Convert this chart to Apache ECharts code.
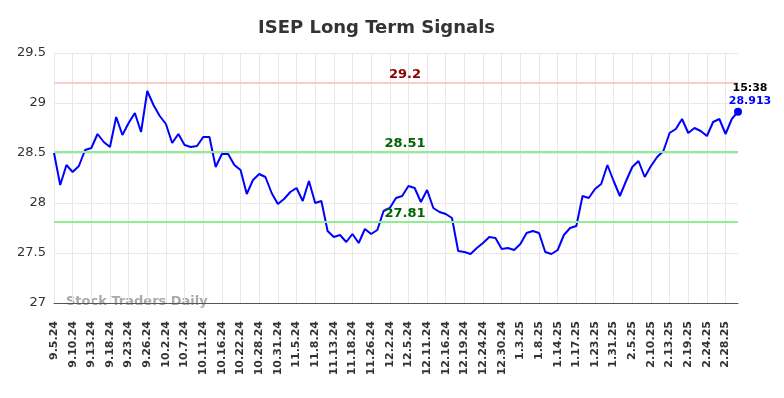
<!DOCTYPE html>
<html>
<head>
<meta charset="utf-8">
<script src="https://cdn.jsdelivr.net/npm/echarts@6/dist/echarts.min.js"></script>
<style>
  html, body { margin: 0; padding: 0; background: #fff; }
  #main { width: 784px; height: 398px; }
</style>
</head>
<body>
<div id="main"></div>
<script>
// trading days, a label shows on every third one
var dates = [
  '9.5.24','9.6.24','9.9.24', '9.10.24','9.11.24','9.12.24', '9.13.24','9.16.24','9.17.24',
  '9.18.24','9.19.24','9.20.24', '9.23.24','9.24.24','9.25.24', '9.26.24','9.27.24','9.30.24',
  '10.2.24','10.3.24','10.4.24', '10.7.24','10.8.24','10.9.24', '10.11.24','10.14.24','10.15.24',
  '10.16.24','10.17.24','10.18.24', '10.22.24','10.23.24','10.24.24', '10.28.24','10.29.24','10.30.24',
  '10.31.24','11.1.24','11.4.24', '11.5.24','11.6.24','11.7.24', '11.8.24','11.11.24','11.12.24',
  '11.13.24','11.14.24','11.15.24', '11.18.24','11.20.24','11.22.24', '11.26.24','11.27.24','11.29.24',
  '12.2.24','12.3.24','12.4.24', '12.5.24','12.6.24','12.9.24', '12.11.24','12.12.24','12.13.24',
  '12.16.24','12.17.24','12.18.24', '12.19.24','12.20.24','12.23.24', '12.24.24','12.26.24','12.27.24',
  '12.30.24','12.31.24','1.2.25', '1.3.25','1.6.25','1.7.25', '1.8.25','1.10.25','1.13.25',
  '1.14.25','1.15.25','1.16.25', '1.17.25','1.21.25','1.22.25', '1.23.25','1.24.25','1.28.25',
  '1.31.25','2.3.25','2.4.25', '2.5.25','2.6.25','2.7.25', '2.10.25','2.11.25','2.12.25',
  '2.13.25','2.14.25','2.18.25', '2.19.25','2.20.25','2.21.25', '2.24.25','2.25.25','2.26.25',
  '2.28.25','3.3.25','3.4.25'
];

var prices = [
  28.50, 28.18, 28.38, 28.31, 28.37, 28.53, 28.55, 28.69, 28.61, 28.56,
  28.86, 28.68, 28.80, 28.90, 28.71, 29.12, 28.98, 28.87, 28.79, 28.60,
  28.69, 28.58, 28.56, 28.57, 28.66, 28.66, 28.36, 28.49, 28.49, 28.38,
  28.33, 28.09, 28.23, 28.29, 28.26, 28.10, 27.99, 28.04, 28.11, 28.15,
  28.02, 28.22, 28.00, 28.02, 27.72, 27.66, 27.68, 27.61, 27.69, 27.60,
  27.74, 27.69, 27.73, 27.92, 27.95, 28.05, 28.07, 28.17, 28.15, 28.01,
  28.13, 27.95, 27.91, 27.89, 27.85, 27.52, 27.51, 27.49, 27.55, 27.60,
  27.66, 27.65, 27.54, 27.55, 27.53, 27.59, 27.70, 27.72, 27.70, 27.51,
  27.49, 27.53, 27.68, 27.75, 27.77, 28.07, 28.05, 28.14, 28.19, 28.38,
  28.22, 28.07, 28.22, 28.36, 28.42, 28.26, 28.37, 28.46, 28.52, 28.70,
  28.74, 28.84, 28.70, 28.75, 28.72, 28.67, 28.81, 28.84, 28.69, 28.84,
  28.913
];

var resistance = 29.2;
var midLevel = 28.51;
var support = 27.81;
var lastTime = '15:38';
var yTicks = [27, 27.5, 28, 28.5, 29, 29.5];

var font = 'DejaVu Sans';
var lastIdx = prices.length - 1;

var option = {
  animation: false,
  backgroundColor: '#fff',
  title: {
    text: 'ISEP Long Term Signals',
    left: 253, top: 14,
    textStyle: { fontFamily: font, fontSize: 18, fontWeight: 'bold', color: '#333' }
  },
  grid: { left: 54, right: 46, top: 53, bottom: 95, containLabel: false },
  xAxis: {
    type: 'category',
    data: dates,
    boundaryGap: false,
    axisLine: { lineStyle: { color: '#555' } },
    axisTick: { show: false },
    axisLabel: { interval: 2, rotate: 90, margin: 18, fontFamily: font, fontSize: 11, fontWeight: 'bold', color: '#333' },
    splitLine: { show: true, interval: 2, lineStyle: { color: '#e8e8e8' } }
  },
  yAxis: {
    type: 'value',
    min: yTicks[0], max: yTicks[yTicks.length - 1], interval: 0.5,
    axisLine: { show: false },
    axisTick: { show: false },
    axisLabel: { fontFamily: font, fontSize: 13, color: '#333', margin: 8 },
    splitLine: { lineStyle: { color: '#e8e8e8' } }
  },
  graphic: [{
    type: 'text', left: 66, top: 295, silent: true,
    style: { text: 'Stock Traders Daily', fontFamily: font, fontSize: 13, fontWeight: 'bold', fill: '#aaa' }
  }],
  series: [{
    type: 'line',
    data: prices,
    showSymbol: false,
    lineStyle: { color: '#0000ff', width: 2 },
    itemStyle: { color: '#0000ff' },
    markLine: {
      silent: true,
      symbol: 'none',
      data: [
        { yAxis: resistance, lineStyle: { color: '#ffcccc', width: 2, type: 'solid' },
          label: { color: '#8b0000' } },
        { yAxis: midLevel, lineStyle: { color: '#90ee90', width: 2, type: 'solid' },
          label: { color: '#006400' } },
        { yAxis: support, lineStyle: { color: '#90ee90', width: 2, type: 'solid' },
          label: { color: '#006400' } }
      ],
      label: {
        position: 'insideMiddleTop', distance: 2, offset: [9, 0],
        formatter: function (p) { return String(p.value); },
        fontFamily: font, fontSize: 13, fontWeight: 'bold'
      }
    },
    markPoint: {
      silent: true,
      symbol: 'circle', symbolSize: 8,
      itemStyle: { color: '#0000ff' },
      data: [{ coord: [lastIdx, prices[lastIdx]] }],
      label: {
        show: true, position: 'top', offset: [12, 5],
        formatter: '{t|' + lastTime + '}\n{v|' + prices[lastIdx] + '}',
        rich: {
          t: { fontFamily: font, fontSize: 11, fontWeight: 'bold', color: '#000', lineHeight: 13 },
          v: { fontFamily: font, fontSize: 11, fontWeight: 'bold', color: '#0000ff', lineHeight: 13 }
        }
      }
    }
  }]
};

var myChart = echarts.init(document.getElementById('main'));
myChart.setOption(option);
</script>
</body>
</html>
